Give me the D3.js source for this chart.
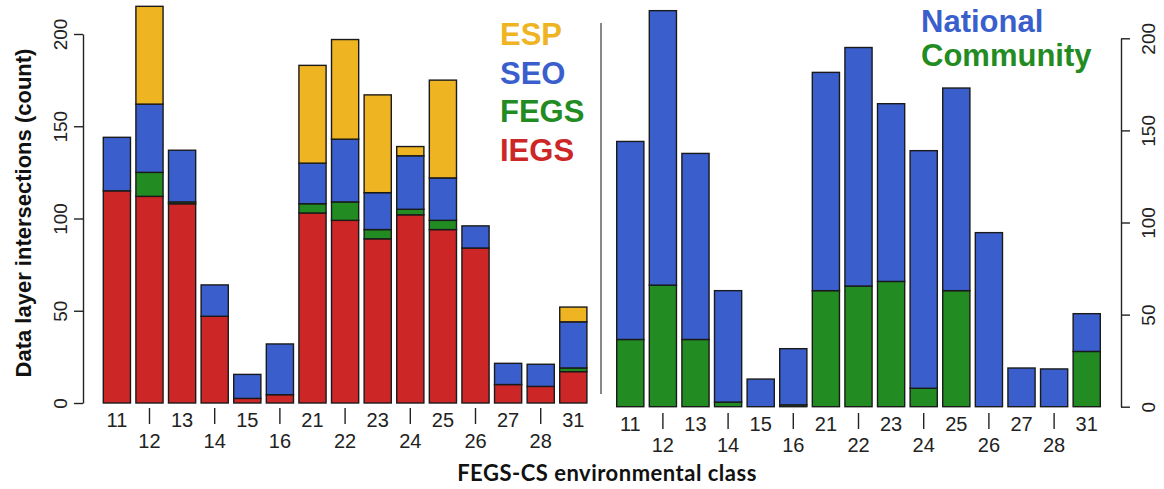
<!DOCTYPE html>
<html>
<head>
<meta charset="utf-8">
<script src="https://cdn.jsdelivr.net/npm/d3@7"></script>
<style>
  html, body { margin: 0; padding: 0; background: #fff; }
  svg { display: block; }
  text { font-family: "Liberation Sans", Arial, sans-serif; }
</style>
</head>
<body>
<svg id="SVG_CONTAINER" width="1164" height="489"></svg>
<script>
let d3 = window.d3;

// FEGS-CS environmental classes
const classes = ["11","12","13","14","15","16","21","22","23","24","25","26","27","28","31"];

// left panel: stacked counts (bottom -> top)
const iegs = [115, 112, 108, 47, 2.5, 4.5, 103, 99, 89, 102, 94, 84, 10, 9, 17];
const fegs = [0, 13, 1, 0, 0, 0, 5, 10, 5, 3, 5, 0, 0, 0, 2];
const seo  = [29, 37, 28, 17, 13, 27.5, 22, 34, 20, 29, 23, 12, 11.5, 12, 25];
const esp  = [0, 53, 0, 0, 0, 0, 53, 54, 53, 5, 53, 0, 0, 0, 8];

// right panel: stacked counts (bottom -> top)
const community = [36.5, 66, 36.5, 2.5, 0, 1, 63, 65.5, 68, 10, 63, 0, 0, 0, 30];
const national  = [107.5, 149, 101, 60.5, 15, 30.5, 118.5, 129.5, 96.5, 129, 110, 94.5, 21, 20.5, 20.5];

const yTicks = [0, 50, 100, 150, 200];

const COLORS = { ESP: "#EEB422", SEO: "#3A5FCD", FEGS: "#228B22", IEGS: "#CD2626",
                 National: "#3A5FCD", Community: "#228B22" };

let svg = d3.select("#SVG_CONTAINER");

let drawPanel = function (opts) {
  let keys = opts.keys;
  let rows = classes.map((c, i) => {
    let r = { cls: c };
    keys.forEach(k => { r[k] = opts.series[k][i]; });
    return r;
  });

  let stackData = d3.stack().keys(keys)(rows);

  let xScale = d3.scaleBand()
    .domain(classes)
    .range(opts.xRange)
    .paddingInner(1 / 6)
    .paddingOuter(0);

  let yScale = d3.scaleLinear()
    .domain([0, 200])
    .range(opts.yRange);

  let g = svg.append("g");

  g.selectAll("g.layer")
    .data(stackData)
    .enter()
    .append("g")
    .attr("class", "layer")
    .attr("fill", d => COLORS[d.key])
    .selectAll("rect")
    .data(d => d)
    .enter()
    .append("rect")
      .attr("x", d => xScale(d.data.cls))
      .attr("width", xScale.bandwidth())
      .attr("y", d => yScale(d[1]))
      .attr("height", d => yScale(d[0]) - yScale(d[1]))
      .attr("stroke", "#1a1a1a")
      .attr("stroke-width", 1.4);

  // y axis
  let axis = opts.axisSide === "left" ? d3.axisLeft(yScale) : d3.axisRight(yScale);
  axis.tickValues(yTicks).tickSize(9).tickSizeOuter(0);
  let ax = g.append("g")
    .attr("transform", "translate(" + opts.axisX + ",0)")
    .call(axis);
  ax.select(".domain").attr("stroke", "#222").attr("stroke-width", 1.4);
  ax.selectAll(".tick line").attr("stroke", "#222").attr("stroke-width", 1.4);
  ax.selectAll(".tick text")
    .attr("transform", "rotate(-90)")
    .attr("text-anchor", "middle")
    .attr("x", 0)
    .attr("dy", 0)
    .attr("y", opts.labelOffset)
    .attr("fill", "#222")
    .style("font-size", "19px")
    .style("font-family", "Liberation Sans, Arial, sans-serif");

  // x labels, alternating rows
  classes.forEach((c, i) => {
    let cx = xScale(c) + xScale.bandwidth() / 2;
    if (i % 2 === 0) {
      g.append("text")
        .attr("x", cx)
        .attr("y", opts.rowTop)
        .attr("text-anchor", "middle")
        .attr("fill", "#222")
        .style("font-size", "20px")
        .text(c);
    } else {
      g.append("line")
        .attr("x1", cx).attr("x2", cx)
        .attr("y1", opts.tickTop).attr("y2", opts.tickTop + 16)
        .attr("stroke", "#222")
        .attr("stroke-width", 1.4);
      g.append("text")
        .attr("x", cx)
        .attr("y", opts.rowBottom)
        .attr("text-anchor", "middle")
        .attr("fill", "#222")
        .style("font-size", "20px")
        .text(c);
    }
  });

  // legend
  opts.legend.forEach((k, i) => {
    g.append("text")
      .attr("x", opts.legendX)
      .attr("y", opts.legendY + i * opts.legendStep)
      .attr("fill", COLORS[k])
      .style("font-size", "31px")
      .style("font-weight", "bold")
      .text(k);
  });
};

drawPanel({
  keys: ["IEGS", "FEGS", "SEO", "ESP"],
  series: { IEGS: iegs, FEGS: fegs, SEO: seo, ESP: esp },
  xRange: [103.3, 586.9],
  yRange: [403, 34],
  axisSide: "left",
  axisX: 83,
  labelOffset: -16,
  rowTop: 427,
  rowBottom: 448,
  tickTop: 408,
  legend: ["ESP", "SEO", "FEGS", "IEGS"],
  legendX: 500,
  legendY: 45,
  legendStep: 38.7
});

drawPanel({
  keys: ["Community", "National"],
  series: { Community: community, National: national },
  xRange: [616.7, 1100.3],
  yRange: [406.7, 38.3],
  axisSide: "right",
  axisX: 1121,
  labelOffset: 34,
  rowTop: 431,
  rowBottom: 452,
  tickTop: 413,
  legend: ["National", "Community"],
  legendX: 921,
  legendY: 32,
  legendStep: 34
});

// divider between the panels
svg.append("line")
  .attr("x1", 601).attr("x2", 601)
  .attr("y1", 23).attr("y2", 394)
  .attr("stroke", "#555")
  .attr("stroke-width", 1.4);

// y axis title
svg.append("text")
  .attr("transform", "translate(31,213) rotate(-90)")
  .attr("text-anchor", "middle")
  .attr("fill", "#111")
  .style("font-size", "22px")
  .style("font-weight", "bold")
  .text("Data layer intersections (count)");

// x axis title
svg.append("text")
  .attr("x", 607)
  .attr("y", 481)
  .attr("text-anchor", "middle")
  .attr("fill", "#111")
  .style("font-family", "Lato, sans-serif")
  .style("font-size", "22px")
  .style("font-weight", "bold")
  .style("letter-spacing", "0.5px")
  .text("FEGS-CS environmental class");
</script>
</body>
</html>
